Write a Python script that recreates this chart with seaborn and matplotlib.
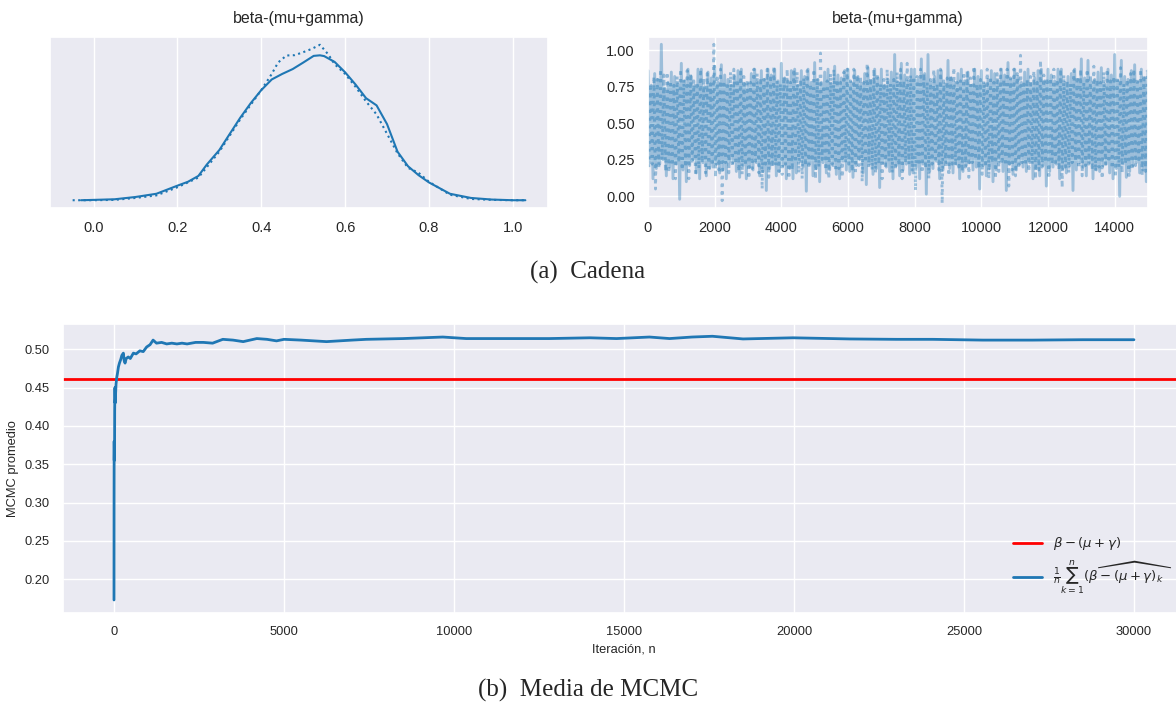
import numpy as np
import pandas as pd
import matplotlib
matplotlib.use("Agg")
import matplotlib.pyplot as plt
import seaborn as sns

# ---------------- data ----------------
param_title = "beta-(mu+gamma)"

# KDE of the two chains
kde_solid_x = [-0.03, 0.0, 0.05, 0.1, 0.15, 0.2, 0.225, 0.25, 0.27, 0.3, 0.325, 0.35, 0.375, 0.4, 0.425, 0.45,
               0.475, 0.5, 0.525, 0.54, 0.55, 0.575, 0.6, 0.625, 0.65, 0.675, 0.7, 0.725, 0.75, 0.775, 0.8,
               0.85, 0.9, 0.95, 1.0, 1.03]
kde_solid_y = [0.0, 0.006, 0.017, 0.058, 0.116, 0.261, 0.33, 0.435, 0.638, 0.899, 1.19, 1.479, 1.74, 1.972,
               2.163, 2.262, 2.349, 2.465, 2.585, 2.595, 2.581, 2.477, 2.291, 2.071, 1.827, 1.699, 1.363,
               0.870, 0.609, 0.45, 0.319, 0.116, 0.041, 0.012, 0.0, 0.0]

kde_dot_x = [-0.05, -0.03, 0.0, 0.05, 0.1, 0.15, 0.2, 0.25, 0.3, 0.35, 0.4, 0.425, 0.44, 0.46, 0.48, 0.5, 0.52,
             0.54, 0.56, 0.575, 0.6, 0.625, 0.65, 0.675, 0.7, 0.725, 0.75, 0.775, 0.8, 0.85, 0.9, 0.95, 1.0, 1.03]
kde_dot_y = [0.0, 0.0, 0.0, 0.006, 0.041, 0.087, 0.232, 0.406, 0.87, 1.45, 1.972, 2.262, 2.465, 2.592, 2.598, 2.651,
             2.709, 2.784, 2.61, 2.436, 2.262, 2.03, 1.769, 1.537, 1.189, 0.841, 0.58, 0.493, 0.331, 0.099, 0.023,
             0.006, 0.0, 0.0]

# Trace: peak / trough values, chain 1 every 50 iterations
trace_chain1 = [
    0.86, 0.23, 0.76, 0.12, 0.84, 0.19, 0.80, 0.22, 1.04, 0.25, 0.74, 0.14, 0.78, 0.20, 0.85, 0.12, 0.82, 0.22, 0.77, -0.02,
    0.91, 0.18, 0.79, 0.10, 0.87, 0.21, 0.82, 0.25, 0.76, 0.16, 0.87, 0.12, 0.87, 0.23, 0.75, 0.14, 0.85, 0.19, 0.81, 0.20,
    0.89, 0.22, 0.78, 0.16, 0.90, 0.18, 0.83, 0.12, 0.80, 0.24, 0.76, 0.23, 0.82, 0.17, 0.86, 0.13, 0.87, 0.21, 0.77, 0.12,
    0.77, 0.20, 0.84, 0.18, 0.87, 0.23, 0.78, 0.14, 0.86, 0.17, 0.80, 0.04, 0.87, 0.19, 0.83, 0.22, 0.87, 0.14, 0.79, 0.17,
    0.91, 0.21, 0.81, 0.12, 0.79, 0.19, 0.86, 0.12, 0.87, 0.16, 0.76, 0.24, 0.86, 0.20, 0.82, 0.035, 0.87, 0.22, 0.78, 0.14,
    0.915, 0.19, 0.80, 0.10, 0.78, 0.23, 0.85, 0.16, 0.87, 0.18, 0.77, 0.21, 0.89, 0.15, 0.83, 0.12, 0.81, 0.24, 0.86, 0.18,
    0.87, 0.17, 0.78, 0.13, 0.86, 0.21, 0.82, 0.25, 0.77, 0.16, 0.84, 0.08, 0.88, 0.22, 0.79, 0.15, 0.87, 0.19, 0.81, 0.06,
    0.87, 0.23, 0.76, 0.20, 0.80, 0.17, 0.85, 0.12, 0.97, 0.21, 0.78, 0.14, 0.91, 0.18, 0.83, 0.22, 0.79, 0.15, 0.87, 0.16,
    0.87, 0.20, 0.80, 0.12, 0.94, 0.22, 0.84, 0.015, 0.97, 0.17, 0.78, 0.19, 0.82, 0.24, 0.86, 0.12, 0.86, 0.18, 0.77, 0.23,
    0.93, 0.19, 0.81, 0.16, 0.78, 0.22, 0.84, 0.12, 0.87, 0.17, 0.79, 0.21, 0.85, 0.23, 0.76, 0.18, 0.87, 0.20, 0.82, 0.05,
    0.86, 0.21, 0.77, 0.14, 0.80, 0.19, 0.86, 0.10, 0.84, 0.18, 0.79, 0.24, 0.87, 0.17, 0.83, 0.04, 0.915, 0.22, 0.80, 0.15,
    0.87, 0.18, 0.82, 0.22, 0.78, 0.20, 0.85, 0.17, 0.87, 0.23, 0.77, 0.12, 0.81, 0.19, 0.86, 0.14, 0.87, 0.21, 0.79, 0.07,
    0.87, 0.17, 0.83, 0.20, 0.79, 0.22, 0.87, 0.12, 0.87, 0.19, 0.78, 0.16, 0.82, 0.21, 0.84, 0.04, 0.87, 0.18, 0.80, 0.23,
    0.94, 0.20, 0.81, 0.14, 0.93, 0.23, 0.78, 0.12, 0.80, 0.18, 0.85, 0.17, 0.88, 0.21, 0.77, 0.22, 0.87, 0.16, 0.83, 0.12,
    0.97, 0.19, 0.79, 0.0, 0.93, 0.22, 0.82, 0.13, 0.80, 0.17, 0.86, 0.21, 0.90, 0.23, 0.78, 0.16, 0.87, 0.18, 0.81, 0.10,
    0.86]
# chain 2 (dotted), every 50 iterations starting at 25
trace_chain2 = [
    0.20, 0.77, 0.22, 0.82, 0.05, 0.80, 0.19, 0.87, 0.25, 0.83, 0.17, 0.85, 0.16, 0.79, 0.21, 0.76, 0.12, 0.82, 0.23, 0.87,
    0.18, 0.80, 0.20, 0.86, 0.12, 0.84, 0.22, 0.79, 0.14, 0.78, 0.19, 0.87, 0.23, 0.81, 0.16, 0.84, 0.17, 0.77, 0.21, 1.04,
    0.13, 0.83, 0.18, 0.87, -0.03, 0.79, 0.23, 0.78, 0.16, 0.85, 0.20, 0.87, 0.22, 0.80, 0.17, 0.87, 0.15, 0.82, 0.21, 0.80,
    0.12, 0.78, 0.19, 0.87, 0.24, 0.84, 0.16, 0.81, 0.05, 0.80, 0.22, 0.87, 0.13, 0.83, 0.20, 0.89, 0.21, 0.79, 0.17, 0.77,
    0.15, 0.82, 0.22, 0.87, 0.12, 0.78, 0.18, 0.87, 0.23, 0.85, 0.16, 0.80, 0.12, 0.81, 0.21, 0.86, 0.19, 0.77, 0.24, 0.87,
    0.12, 0.81, 0.20, 0.98, 0.25, 0.76, 0.18, 0.79, 0.12, 0.84, 0.22, 0.87, 0.17, 0.80, 0.19, 0.78, 0.13, 0.85, 0.23, 0.87,
    0.22, 0.79, 0.17, 0.87, 0.15, 0.83, 0.21, 0.82, 0.10, 0.78, 0.23, 0.91, 0.20, 0.81, 0.18, 0.87, 0.16, 0.84, 0.22, 0.77,
    0.12, 0.80, 0.19, 0.87, 0.24, 0.77, 0.16, 0.80, 0.18, 0.85, 0.21, 0.87, 0.12, 0.79, 0.23, 0.91, 0.22, 0.83, 0.17, 0.82,
    0.04, 0.82, 0.21, 0.87, 0.16, 0.84, 0.19, 0.78, 0.12, 0.80, 0.22, 0.87, 0.23, 0.77, 0.18, 0.87, -0.05, 0.79, 0.20, 0.81,
    0.14, 0.83, 0.22, 0.88, 0.21, 0.78, 0.18, 0.79, 0.17, 0.85, 0.20, 0.86, 0.13, 0.81, 0.23, 0.89, 0.25, 0.77, 0.19, 0.80,
    0.15, 0.79, 0.20, 0.87, 0.12, 0.82, 0.23, 0.78, 0.12, 0.84, 0.17, 0.87, 0.22, 0.80, 0.21, 0.87, 0.07, 0.81, 0.18, 0.87,
    0.14, 0.84, 0.19, 0.965, 0.23, 0.79, 0.21, 0.80, 0.17, 0.82, 0.22, 0.86, 0.12, 0.78, 0.18, 0.93, 0.20, 0.83, 0.23, 0.81,
    0.12, 0.81, 0.22, 0.87, 0.21, 0.80, 0.18, 0.87, 0.06, 0.83, 0.20, 0.79, 0.16, 0.77, 0.23, 0.86, 0.24, 0.82, 0.19, 0.87,
    0.14, 0.78, 0.21, 0.87, 0.22, 0.83, 0.18, 0.89, 0.17, 0.80, 0.20, 0.78, 0.12, 0.85, 0.22, 0.87, 0.23, 0.79, 0.19, 0.82,
    0.13, 0.82, 0.20, 0.88, 0.16, 0.77, 0.22, 0.80, 0.12, 0.84, 0.18, 0.87, 0.21, 0.81, 0.23, 0.87, 0.14, 0.83, 0.17, 0.86]
trace_iter1 = np.arange(0, 15001, 50)
trace_iter2 = np.arange(25, 15000, 50)
trace_yticks = [0.0, 0.25, 0.5, 0.75, 1.0]

# Running mean of the chain
mean_iter = [0, 2, 5, 8, 12, 16, 20, 28, 35, 45, 60, 80, 100, 130, 160, 200, 230, 275, 300, 325,
             360, 420, 480, 570, 650, 760, 860, 960, 1060, 1150, 1250, 1400, 1550, 1700, 1850, 2000,
             2150, 2400, 2630, 2900, 3200, 3500, 3800, 4200, 4500, 4780, 5000, 5500, 6250, 7000, 7420,
             8500, 9670, 10360, 11500, 12800, 14000, 14780, 15750, 16340, 17000, 17600, 18500, 19970,
             21640, 23000, 24080, 25550, 27020, 28500, 29999]
mean_val = [0.173, 0.30, 0.38, 0.355, 0.37, 0.36, 0.42, 0.45, 0.43, 0.44, 0.455, 0.463, 0.468, 0.477,
            0.482, 0.487, 0.492, 0.495, 0.485, 0.482, 0.488, 0.49, 0.488, 0.495, 0.494, 0.498, 0.497,
            0.503, 0.506, 0.512, 0.508, 0.509, 0.507, 0.508, 0.507, 0.508, 0.507, 0.509, 0.509, 0.508,
            0.513, 0.512, 0.510, 0.514, 0.513, 0.511, 0.513, 0.512, 0.510, 0.512, 0.513, 0.514, 0.516,
            0.514, 0.514, 0.514, 0.515, 0.514, 0.516, 0.514, 0.516, 0.517, 0.5135, 0.515, 0.5135, 0.513,
            0.513, 0.512, 0.512, 0.5125, 0.5125]
true_value = 0.461
mean_yticks = [0.20, 0.25, 0.30, 0.35, 0.40, 0.45, 0.50]
mean_xticks = [0, 5000, 10000, 15000, 20000, 25000, 30000]

label_true = r"$\beta-(\mu+\gamma)$"
label_mean = r"$\frac{1}{n}\sum_{k=1}^{n}(\widehat{\beta-(\mu+\gamma)_k}$"
xlabel_mean = "Iteración, n"
ylabel_mean = "MCMC promedio"
caption_a = "(a)  Cadena"
caption_b = "(b)  Media de MCMC"

assert len(mean_iter) == len(mean_val)
assert len(trace_chain1) == len(trace_iter1) and len(trace_chain2) == len(trace_iter2)

# ---------------- style ----------------
sns.set_theme(style="darkgrid")
plt.rcParams['font.family'] = ['Liberation Sans', 'DejaVu Sans']
plt.rcParams['mathtext.fontset'] = 'dejavusans'
C0 = "#1f77b4"

W, H = 1176, 707
fig = plt.figure(figsize=(W / 100, H / 100), dpi=100)


def rect(l, t, r, b):
    return [l / W, 1 - b / H, (r - l) / W, (b - t) / H]


# ---- top left: KDE ----
ax1 = fig.add_axes(rect(50, 37, 548, 208))
sns.lineplot(x=kde_solid_x, y=kde_solid_y, ax=ax1, color=C0, lw=1.5, estimator=None, sort=False)
sns.lineplot(x=kde_dot_x, y=kde_dot_y, ax=ax1, color=C0, lw=1.5, linestyle=":", estimator=None, sort=False)
ax1.set_yticks([])
ax1.set_xticks([0.0, 0.2, 0.4, 0.6, 0.8, 1.0])
ax1.set_xticklabels(["0.0", "0.2", "0.4", "0.6", "0.8", "1.0"])
ax1.tick_params(labelsize=10.5, colors=".15")
ax1.set_title(param_title, fontsize=11.5, color=".15", pad=10)

# ---- top right: trace ----
ax2 = fig.add_axes(rect(648, 37, 1148, 208))
sns.lineplot(x=trace_iter1, y=trace_chain1, ax=ax2, color=C0, lw=2.1, alpha=0.38, estimator=None, sort=False)
sns.lineplot(x=trace_iter2, y=trace_chain2, ax=ax2, color=C0, lw=2.1, alpha=0.42, linestyle=":",
             estimator=None, sort=False)
ax2.set_xlim(0, 15000)
ax2.set_ylim(-0.08, 1.09)
ax2.set_yticks(trace_yticks)
ax2.set_yticklabels([f"{v:.2f}" for v in trace_yticks])
ax2.set_xticks(range(0, 15000, 2000))
ax2.tick_params(labelsize=10.5, colors=".15")
ax2.set_title(param_title, fontsize=11.5, color=".15", pad=10)

# ---- bottom: running mean ----
ax3 = fig.add_axes(rect(63, 324, 1185, 613))
ax3.axhline(true_value, color="red", lw=2, label=label_true)
sns.lineplot(x=mean_iter, y=mean_val, ax=ax3, color=C0, lw=2, estimator=None, sort=False, label=label_mean)
ax3.set_xlim(-1500, 31500)
ax3.set_ylim(0.156, 0.533)
ax3.set_yticks(mean_yticks)
ax3.set_yticklabels([f"{v:.2f}" for v in mean_yticks])
ax3.set_xticks(mean_xticks)
ax3.tick_params(labelsize=9.25, colors=".15")
ax3.set_xlabel(xlabel_mean, fontsize=9.25, color=".15")
ax3.set_ylabel(ylabel_mean, fontsize=9.25, color=".15")
ax3.legend(loc="upper left", bbox_to_anchor=(1008 / W, 1 - 530 / H), bbox_transform=fig.transFigure,
           frameon=False, fontsize=9.5, borderaxespad=0, handlelength=2.2)

# ---- captions ----
fig.text(588 / W, 1 - 272 / H, caption_a, ha="center", va="center", family="Liberation Serif", fontsize=18)
fig.text(588 / W, 1 - 690 / H, caption_b, ha="center", va="center", family="Liberation Serif", fontsize=18)

fig.savefig("out.png", dpi=100)
